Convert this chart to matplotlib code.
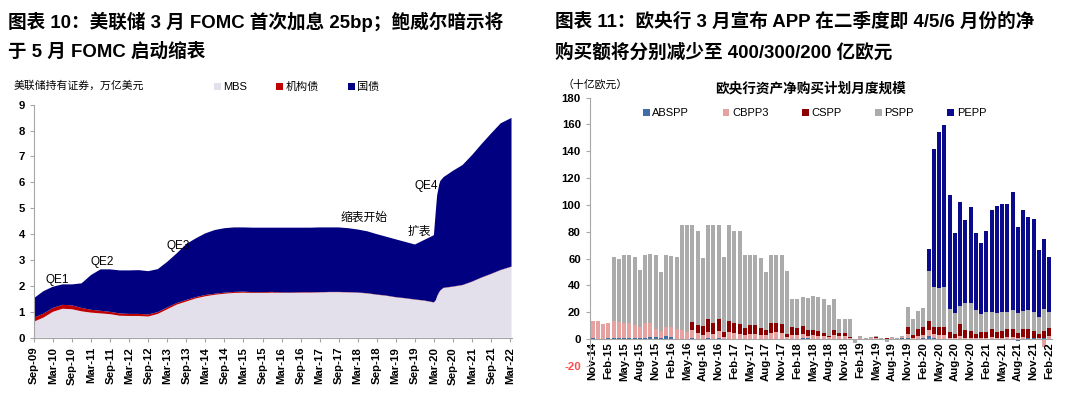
import matplotlib
matplotlib.use("Agg")
import matplotlib.pyplot as plt
import numpy as np
import pandas as pd

plt.rcParams['font.family'] = ['Liberation Sans', 'Noto Sans CJK SC', 'DejaVu Sans']
plt.rcParams['axes.unicode_minus'] = False

# ---------- left: Fed holdings (trillion USD) ----------
fed_dates = pd.to_datetime([
    "2009-09-01", "2009-12-01", "2010-03-01", "2010-06-01", "2010-09-01", "2010-12-01",
    "2011-03-01", "2011-06-01", "2011-09-01", "2011-12-01", "2012-03-01", "2012-06-01",
    "2012-09-01", "2012-12-01", "2013-03-01", "2013-06-01", "2013-09-01", "2013-12-01",
    "2014-03-01", "2014-06-01", "2014-09-01", "2014-12-01", "2015-03-01", "2015-06-01",
    "2015-09-01", "2015-12-01", "2016-03-01", "2016-06-01", "2016-09-01", "2016-12-01",
    "2017-03-01", "2017-06-01", "2017-09-01", "2017-12-01", "2018-03-01", "2018-06-01",
    "2018-09-01", "2018-12-01", "2019-03-01", "2019-06-01", "2019-09-01", "2019-12-01",
    "2020-03-01", "2020-03-20", "2020-04-01", "2020-04-20", "2020-05-01", "2020-06-01",
    "2020-09-01", "2020-12-01", "2021-03-01", "2021-06-01", "2021-09-01", "2021-12-01",
    "2022-03-15"])
fed_total = [1.53, 1.80, 1.97, 2.06, 2.06, 2.10, 2.42, 2.64, 2.64, 2.60,
             2.60, 2.61, 2.57, 2.65, 2.93, 3.26, 3.62, 3.84, 4.03, 4.16,
             4.23, 4.26, 4.26, 4.25, 4.25, 4.25, 4.25, 4.25, 4.25, 4.25,
             4.26, 4.26, 4.26, 4.23, 4.18, 4.11, 4.00, 3.90, 3.80, 3.70,
             3.60, 3.78, 3.96, 4.93, 5.50, 5.90, 6.05, 6.20, 6.45, 6.67,
             7.05, 7.48, 7.89, 8.28, 8.49]
fed_mbs = [0.62, 0.78, 1.00, 1.12, 1.10, 1.02, 0.97, 0.94, 0.91, 0.85,
           0.84, 0.84, 0.82, 0.92, 1.10, 1.28, 1.40, 1.52, 1.60, 1.66,
           1.70, 1.73, 1.74, 1.73, 1.73, 1.74, 1.73, 1.73, 1.74, 1.74,
           1.75, 1.76, 1.76, 1.75, 1.74, 1.71, 1.66, 1.62, 1.56, 1.52,
           1.47, 1.43, 1.36, 1.45, 1.60, 1.75, 1.82, 1.92, 1.97, 2.03,
           2.16, 2.32, 2.46, 2.61, 2.74]
fed_agency = [0.16, 0.15, 0.15, 0.15, 0.15, 0.13, 0.11, 0.10, 0.09, 0.09,
              0.08, 0.08, 0.08, 0.07, 0.07, 0.06, 0.06, 0.05, 0.05, 0.04,
              0.04, 0.04, 0.04, 0.03, 0.03, 0.03, 0.02, 0.02, 0.02, 0.02,
              0.01, 0.01, 0.01, 0.01, 0.01, 0.01, 0.01, 0.01, 0.01, 0.01,
              0.01, 0.01, 0.01, 0.01, 0.01, 0.01, 0.01, 0.01, 0.01, 0.01,
              0.01, 0.01, 0.01, 0.01, 0.01]
fed_treasury = list(np.array(fed_total) - np.array(fed_mbs) - np.array(fed_agency))

fed_notes = [("QE1", "2010-04-10", 2.22), ("QE2", "2011-06-15", 2.91),
             ("QE3", "2013-06-15", 3.54), ("缩表开始", "2018-05-01", 4.63),
             ("扩表", "2019-10-10", 4.09), ("QE4", "2019-12-20", 5.87)]

# ---------- right: ECB monthly net purchases (EUR bn) ----------
ecb_months = pd.period_range("2014-11", "2022-02", freq="M")
abspp = [0.5, 0.3, 0.3, 0.5, 0.8, 0.8, 0.8, 0.8, 0.5, 0.5,
         1.0, 1.2, 1.2, 0.5, 2.0, 1.5, 0.3, 0.3, 0.3, 0.5,
         0.3, 0.2, 0.5, 0.3, 0.5, 0.2, 0.3, 0.3, 0.3, 0.2,
         0.3, 0.2, 0.2, 0.2, 0.3, 0.3, 0.3, 0.2, 0.3, 0.3,
         0.4, 0.5, 0.3, 0.3, 0.2, 0.2, 0.3, 0.2, 0.2, 0.1,
         0.0, 0.2, 0.1, 0.1, 0.2, -0.3, 0.1, 0.3, -0.2, 0.8,
         0.5, 0.3, 0.3, 0.5, 2.0, 0.5, 0.3, 0.3, 0.3, -0.5,
         0.3, 0.3, -0.5, -0.8, -0.5, 0.3, 0.3, 0.3, 0.3, 0.3,
         0.3, -1.5, 0.3, 0.5, 0.5, 0.3, 0.5, 0.3]
cbpp3 = [12.9, 13.1, 11.1, 11.7, 12.4, 11.6, 10.9, 10.9, 9.7, 8.2,
         10.7, 10.5, 6.0, 5.5, 7.0, 7.2, 7.4, 6.4, 5.2, 6.2,
         3.9, 2.8, 5.0, 3.4, 5.5, 1.5, 4.7, 4.4, 3.4, 2.8,
         3.2, 3.5, 2.8, 2.5, 3.9, 4.9, 4.4, 1.5, 2.7, 2.7,
         3.1, 2.0, 2.4, 2.2, 1.8, 1.0, 2.4, 1.8, 1.8, 0.9,
         -0.7, 0.3, -0.5, 0.3, 0.5, -0.8, -0.7, 0.5, -0.8, 0.5,
         3.2, 0.7, 2.2, 2.5, 4.7, 3.5, 2.7, 2.7, 0.7, 0.5,
         2.2, 0.7, 0.5, 0.5, 1.0, 0.7, 1.2, 0.7, 0.7, 1.2,
         1.2, 0.5, 1.2, 0.5, 0.5, 0.2, -5.7, 1.7]
cspp = [0] * 19 + [
         6.0, 6.5, 7.0, 9.5, 8.5, 9.0, 3.8, 8.4, 7.5, 7.7,
         5.2, 7.2, 7.0, 5.2, 4.0, 7.8, 6.8, 6.7, 2.3, 6.0,
         5.2, 6.2, 4.0, 4.0, 3.2, 2.5, 1.3, 3.8, 2.5, 2.7,
         0.7, 0.2, 0.2, 0.2, 0.3, 1.0, 0.2, 0.3, 0.2, 0.3,
         0.3, 5.5, 1.7, 5.2, 6.0, 7.0, 4.7, 6.0, 6.0, 4.5,
         3.5, 8.7, 5.7, 5.5, 3.0, 4.0, 4.5, 6.0, 4.0, 5.2,
         5.7, 5.7, 4.2, 6.0, 6.2, 5.0, 3.5, 5.7, 6.2]
pspp = [0] * 4 + [
        47.8, 47.6, 51.3, 51.3, 50.8, 42.7, 51.1, 51.8, 55.1, 44.0,
        53.3, 53.1, 53.3, 78.3, 79.5, 72.3, 69.7, 50.5, 70.0, 72.8,
        70.0, 55.3, 71.6, 68.2, 69.0, 54.8, 51.6, 51.6, 52.1, 43.3,
        50.5, 50.5, 51.1, 46.4, 21.0, 21.8, 21.3, 23.8, 25.1, 25.6,
        25.3, 22.5, 23.5, 10.2, 10.5, 13.0, -2.0, 1.2, 0.6, 0.8,
        0.3, 0.3, -1.2, 0.7, 0.4, 0.6, 14.9, 12.5, 12.9, 14.4,
        37.0, 29.8, 28.8, 29.8, 16.5, 15.6, 13.6, 19.9, 21.0, 17.9,
        13.6, 14.9, 12.9, 14.4, 13.8, 12.8, 14.2, 14.7, 13.4, 14.4,
        14.4, 12.6, 15.9, 12.2]
pepp = [0] * 64 + [
        16.1, 103.5, 116.2, 120.7, 85.6, 59.7, 77.1, 61.9, 71.6, 57.4,
        53.2, 60.3, 75.6, 79.6, 80.6, 80.8, 87.9, 64.1, 75.1, 69.7,
        69.0, 49.4, 52.2, 40.5]
ecb_names = ["ABSPP", "CBPP3", "CSPP", "PSPP", "PEPP"]
ecb_colors = ["#3F6DAA", "#E6A1A1", "#8B0000", "#ABABAB", "#0A0A8C"]

fig = plt.figure(figsize=(10.8, 3.95), dpi=100)

title_fs = 13.4
fig.text(0.007, 0.945, "图表 10：美联储 3 月 FOMC 首次加息 25bp；鲍威尔暗示将",
         fontsize=title_fs, fontweight="bold", va="center")
fig.text(0.007, 0.868, "于 5 月 FOMC 启动缩表", fontsize=title_fs, fontweight="bold", va="center")
fig.text(0.514, 0.945, "图表 11：欧央行 3 月宣布 APP 在二季度即 4/5/6 月份的净",
         fontsize=title_fs, fontweight="bold", va="center")
fig.text(0.514, 0.868, "购买额将分别减少至 400/300/200 亿欧元", fontsize=title_fs,
         fontweight="bold", va="center")

spine_c = "#A6A6A6"

# left panel
ax1 = fig.add_axes([0.0315, 0.145, 0.4426, 0.59])
h = ax1.stackplot(fed_dates, fed_mbs, fed_agency, fed_treasury,
                  colors=["#E3DFEB", "#C00000", "#000080"], linewidth=0,
                  labels=["MBS", "机构债", "国债"])
ax1.set_xlim(pd.Timestamp("2009-09-01"), pd.Timestamp("2022-03-20"))
ax1.set_ylim(0, 9)
ax1.set_yticks(range(10))
ticks = pd.date_range("2009-09-01", "2022-03-01", freq="6MS")
ax1.set_xticks(ticks)
ax1.set_xticklabels([t.strftime("%b-%y") for t in ticks], rotation=90)
for s in ["top", "right"]:
    ax1.spines[s].set_visible(False)
for s in ["left", "bottom"]:
    ax1.spines[s].set_color(spine_c)
ax1.tick_params(colors=spine_c, labelcolor="black", length=3, labelsize=8.2)
for t in ax1.get_xticklabels() + ax1.get_yticklabels():
    t.set_fontweight("bold")
for lab, d, y in fed_notes:
    ax1.text(pd.Timestamp(d), y, lab, fontsize=8.5, ha="center", va="center")
fig.text(0.013, 1 - 86 / 395, "美联储持有证券，万亿美元", fontsize=7.8, va="center")
fig.legend(handles=h, loc="center left", bbox_to_anchor=(214 / 1080, 1 - 87 / 395),
           ncol=3, frameon=False, fontsize=8, handlelength=0.6, handleheight=0.6,
           handletextpad=0.25, columnspacing=2.6, borderpad=0, borderaxespad=0)

# right panel
ax2 = fig.add_axes([0.5463, 0.0739, 0.4278, 0.679])
ax2.spines["bottom"].set_position(("data", 0))
x = np.arange(len(ecb_months))
pos_base = np.zeros(len(x))
neg_base = np.zeros(len(x))
handles = []
for name, vals, col in zip(ecb_names, [abspp, cbpp3, cspp, pspp, pepp], ecb_colors):
    v = np.array(vals, dtype=float)
    bottom = np.where(v >= 0, pos_base, neg_base)
    b = ax2.bar(x, v, bottom=bottom, width=0.74, color=col, linewidth=0, label=name)
    handles.append(b)
    pos_base += np.clip(v, 0, None)
    neg_base += np.clip(v, None, 0)
ax2.set_xlim(-0.5, len(x) - 0.5)
ax2.set_ylim(-20, 180)
ax2.set_yticks(range(-20, 181, 20))
ax2.set_xticks(x[::3])
ax2.set_xticklabels([m.strftime("%b-%y") for m in ecb_months[::3]], rotation=90)
for s in ["top", "right"]:
    ax2.spines[s].set_visible(False)
for s in ["left", "bottom"]:
    ax2.spines[s].set_color(spine_c)
ax2.tick_params(colors=spine_c, labelcolor="black", length=3, labelsize=8.2)
ax2.tick_params(axis="x", length=0, pad=2)
for t in ax2.get_xticklabels() + ax2.get_yticklabels():
    t.set_fontweight("bold")
ax2.get_yticklabels()[0].set_color("#FF4B4B")
fig.text(562 / 1080, 1 - 84 / 395, "（十亿欧元）", fontsize=7.8, va="center")
fig.text(810 / 1080, 1 - 88 / 395, "欧央行资产净购买计划月度规模", fontsize=9.8,
         fontweight="bold", ha="center", va="center")
fig.legend(handles=handles, loc="center left", bbox_to_anchor=(643 / 1080, 1 - 113 / 395),
           ncol=5, frameon=False, fontsize=8, handlelength=0.6, handleheight=0.6,
           handletextpad=0.25, columnspacing=3.0, borderpad=0, borderaxespad=0)

fig.savefig("out.png", dpi=100)
